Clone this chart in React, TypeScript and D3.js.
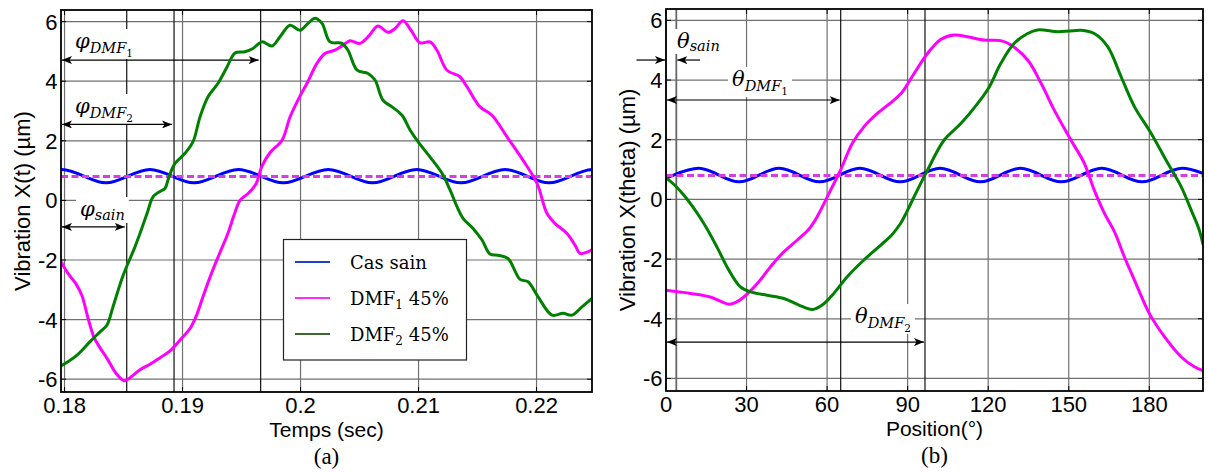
import React, { useLayoutEffect, useRef, useState } from 'react';
import * as d3 from 'd3';

// ---------- data ----------
const timeTicks = [0.18, 0.19, 0.2, 0.21, 0.22];
const timeTickLabels = ['0.18', '0.19', '0.2', '0.21', '0.22'];
const vibTicks = [-6, -4, -2, 0, 2, 4, 6];
const posTicks = [0, 30, 60, 90, 120, 150, 180];
const timeDomain = [0.1797, 0.2247];
const posDomain = [0, 200];
const vibDomainA = [-6.43, 6.39];
const vibDomainB = [-6.42, 6.38];
const meanLevel = 0.8;

// (a) vibration vs time
const sainTime: [number, number][] = [
  [0.17603, 0.59], [0.17977, 1.04], [0.18351, 0.59], [0.18724, 1.04], [0.19097, 0.59],
  [0.19473, 1.04], [0.19854, 0.59], [0.20235, 1.04], [0.2061, 0.59], [0.20984, 1.04],
  [0.2136, 0.59], [0.21733, 1.04], [0.22106, 0.59], [0.22479, 1.04], [0.22853, 0.59],
];
const dmf1Time: [number, number][] = [
  [0.1797, -2.06], [0.18029, -2.45], [0.18097, -2.8], [0.18148, -3.2], [0.18199, -3.95],
  [0.1825, -4.6], [0.18301, -4.95], [0.1836, -5.3], [0.18436, -5.8], [0.18504, -6.05],
  [0.18555, -5.95], [0.18639, -5.68], [0.18724, -5.5], [0.18809, -5.28], [0.18894, -5.05],
  [0.18978, -4.69], [0.19063, -4.3], [0.19114, -3.9], [0.19173, -3.23], [0.1925, -2.4],
  [0.19317, -1.75], [0.19385, -1.1], [0.19436, -0.5], [0.19487, 0.0], [0.19555, 0.23],
  [0.19622, 0.55], [0.19673, 1.15], [0.19741, 1.6], [0.19843, 2.02], [0.19911, 2.8],
  [0.19995, 3.5], [0.20055, 3.93], [0.20139, 4.6], [0.20207, 4.93], [0.20292, 5.04],
  [0.2036, 5.21], [0.20419, 5.36], [0.20504, 5.27], [0.20572, 5.49], [0.20656, 5.85],
  [0.20741, 5.64], [0.20801, 5.77], [0.20868, 6.03], [0.20936, 5.71], [0.21012, 5.29],
  [0.21097, 5.32], [0.21156, 5.04], [0.21241, 4.37], [0.21351, 4.15], [0.21411, 3.81],
  [0.21521, 3.14], [0.21622, 2.86], [0.2175, 2.13], [0.21885, 1.35], [0.22004, 0.57],
  [0.22089, -0.44], [0.22156, -0.77], [0.22258, -1.11], [0.22326, -1.5], [0.22368, -1.78],
  [0.22419, -1.75], [0.2247, -1.66],
];
const dmf2Time: [number, number][] = [
  [0.1797, -5.56], [0.18106, -5.19], [0.18216, -4.74], [0.18301, -4.41], [0.1836, -4.18],
  [0.18411, -3.57], [0.18487, -2.62], [0.18538, -2.11], [0.18597, -1.56], [0.18631, -1.2],
  [0.18699, -0.44], [0.1875, 0.12], [0.18809, 0.3], [0.18851, 0.4], [0.18885, 0.79],
  [0.18936, 1.24], [0.19021, 1.58], [0.19089, 1.97], [0.19148, 2.8], [0.19216, 3.48],
  [0.19301, 3.93], [0.19377, 4.48], [0.19445, 4.95], [0.19529, 4.99], [0.19597, 5.1],
  [0.19673, 5.32], [0.19758, 5.18], [0.19826, 5.49], [0.19911, 5.88], [0.19995, 5.71],
  [0.20063, 5.94], [0.20123, 6.11], [0.20182, 5.94], [0.2025, 5.32], [0.20351, 5.27],
  [0.20402, 5.04], [0.20479, 4.37], [0.20572, 4.26], [0.20631, 4.04], [0.20699, 3.36],
  [0.20775, 3.14], [0.2086, 2.86], [0.20928, 2.36], [0.20995, 1.97], [0.21097, 1.46],
  [0.21199, 0.91], [0.21267, 0.35], [0.21326, -0.21], [0.21377, -0.6], [0.21462, -0.94],
  [0.21538, -1.33], [0.21606, -1.8], [0.21673, -1.84], [0.21758, -1.95], [0.2186, -2.65],
  [0.21928, -2.73], [0.22012, -3.23], [0.22131, -3.85], [0.22224, -3.79], [0.22301, -3.85],
  [0.22385, -3.57], [0.2247, -3.29],
];

// (b) vibration vs angular position
const sainPos: [number, number][] = [
  [-2.8, 0.59], [12.2, 1.04], [27.2, 0.59], [42.2, 1.04], [57.2, 0.59], [72.2, 1.04],
  [87.2, 0.59], [102.1, 1.04], [117.1, 0.59], [132.0, 1.04], [147.2, 0.59], [162.3, 1.04],
  [177.3, 0.59], [192.2, 1.04], [207.2, 0.59],
];
const dmf1Pos: [number, number][] = [
  [0, -3.04], [5, -3.1], [9.1, -3.15], [16.5, -3.27], [20, -3.4], [23.4, -3.51], [26, -3.45],
  [29, -3.27], [34, -2.82], [38.9, -2.26], [43.3, -1.81], [48.9, -1.36], [53.2, -1.0],
  [56.3, -0.58], [61.3, 0.31], [65, 0.98], [69.4, 1.88], [73.7, 2.43], [78.7, 2.88],
  [84.9, 3.33], [88, 3.6], [92.4, 4.22], [97.4, 4.89], [102.3, 5.36], [107.3, 5.51],
  [112.3, 5.45], [118.5, 5.34], [124.7, 5.32], [128.5, 5.17], [134.7, 4.67], [139.7, 3.89],
  [144.6, 2.99], [150.8, 1.99], [155.8, 1.21], [159.5, 0.31], [163.3, -0.47], [167, -1.08],
  [170.7, -1.92], [174.5, -2.71], [180, -3.82], [185.7, -4.61], [191.9, -5.28],
  [196.8, -5.61], [200, -5.74],
];
const dmf2Pos: [number, number][] = [
  [0, 0.72], [3, 0.5], [6.6, 0.15], [10, -0.25], [13, -0.65], [16, -1.1], [19, -1.6],
  [23.4, -2.37], [27.7, -2.93], [31.5, -3.1], [37.7, -3.21], [43.9, -3.32], [49.5, -3.54],
  [54.5, -3.69], [58.2, -3.54], [62.5, -3.15], [67.5, -2.59], [73.7, -2.03], [80, -1.53],
  [84, -1.2], [87.4, -0.8], [89.5, -0.45], [92.4, 0.09], [97.4, 0.98], [103.6, 1.99],
  [109.9, 2.55], [116.1, 3.22], [120.4, 3.77], [124.7, 4.56], [129.7, 5.23], [134.7, 5.56],
  [138.4, 5.68], [145.9, 5.62], [150, 5.64], [154.6, 5.67], [159.5, 5.56], [164.5, 5.12],
  [169.5, 4.11], [174.5, 3.1], [180.7, 2.21], [186.9, 1.21], [191.9, 0.42], [195.6, -0.36],
  [198.5, -1.0], [200, -1.5],
];

// annotation markers (phase shifts)
const phaseMarkersA = [
  { sub: 'DMF', idx: '1', at: 0.19662, level: 4.71 },
  { sub: 'DMF', idx: '2', at: 0.18928, level: 2.55 },
  { sub: 'sain', idx: '', at: 0.18527, level: -0.89 },
];
const phaseMarkersB = [
  { sub: 'sain', idx: '', at: 3.84, level: 4.67 },
  { sub: 'DMF', idx: '1', at: 65.06, level: 3.33 },
  { sub: 'DMF', idx: '2', at: 96.46, level: -4.78 },
];

const legendItems = [
  { main: 'Cas sain', idx: '', rest: '', color: '#1f3fcf' },
  { main: 'DMF', idx: '1', rest: ' 45%', color: '#ff2bff' },
  { main: 'DMF', idx: '2', rest: ' 45%', color: '#3b6a2f' },
];

const BLUE = '#0000ff';
const MAGENTA = '#ff00ff';
const GREEN = '#008000';
const GRID = '#707070';
const SANS = '"Liberation Sans", Arial, sans-serif';
const SERIF_MATH = '"DejaVu Serif", serif';
const FS = 22;

function MathLabel({ x, y, sym, sub, idx, subDy }: any) {
  const ref = useRef<SVGTextElement>(null);
  const [bb, setBB] = useState<any>(null);
  useLayoutEffect(() => {
    if (ref.current) {
      const b = ref.current.getBBox();
      setBB({ x: b.x, y: b.y, w: b.width, h: b.height });
    }
  }, []);
  return (
    <g>
      {bb && <rect x={bb.x - 4} y={bb.y} width={bb.w + 8} height={bb.h} fill="white" />}
      <text ref={ref} x={x} y={y} fontFamily={SERIF_MATH} fontStyle="italic" fontSize={21} fill="#000">
        {sym}
        <tspan fontSize={14.5} dy={subDy}>{sub}</tspan>
        {idx && <tspan fontSize={10.5} dy={4} fontStyle="normal">{idx}</tspan>}
      </text>
    </g>
  );
}

function Arrow({ x1, x2, y, start, end }: any) {
  return (
    <line x1={x1} x2={x2} y1={y} y2={y} stroke="#000" strokeWidth={1.2}
      markerStart={start ? 'url(#arrowHead)' : undefined}
      markerEnd={end ? 'url(#arrowHead)' : undefined} />
  );
}

function Frame({ id, x, y, xTicks, xLabels, yTicks, xLabel, yLabel, yLabelX, caption }: any) {
  const [x0, x1] = x.range();
  const [y1, y0] = y.range();
  return (
    <g>
      <clipPath id={id}><rect x={x0} y={y0} width={x1 - x0} height={y1 - y0} /></clipPath>
      <rect x={x0} y={y0} width={x1 - x0} height={y1 - y0} fill="white" />
      {xTicks.map((t: number) => (
        <line key={'gx' + t} x1={x(t)} x2={x(t)} y1={y0} y2={y1} stroke={GRID} strokeWidth={1.2} />
      ))}
      {yTicks.map((t: number) => (
        <line key={'gy' + t} x1={x0} x2={x1} y1={y(t)} y2={y(t)} stroke={GRID} strokeWidth={1.2} />
      ))}
      {xTicks.map((t: number, i: number) => (
        <g key={'tx' + t}>
          <line x1={x(t)} x2={x(t)} y1={y0} y2={y0 + 5} stroke="#000" strokeWidth={1} />
          <line x1={x(t)} x2={x(t)} y1={y1} y2={y1 - 5} stroke="#000" strokeWidth={1} />
          <text x={x(t)} y={y1 + 21} textAnchor="middle" fontFamily={SANS} fontSize={FS}>{xLabels[i]}</text>
        </g>
      ))}
      {yTicks.map((t: number) => (
        <g key={'ty' + t}>
          <line x1={x0} x2={x0 + 5} y1={y(t)} y2={y(t)} stroke="#000" strokeWidth={1} />
          <line x1={x1} x2={x1 - 5} y1={y(t)} y2={y(t)} stroke="#000" strokeWidth={1} />
          <text x={x0 - 3.5} y={y(t)} dy="0.36em" textAnchor="end" fontFamily={SANS} fontSize={FS}>{t}</text>
        </g>
      ))}
      <text x={(x0 + x1) / 2} y={y1 + 45} textAnchor="middle" fontFamily={SANS} fontSize={21}>{xLabel}</text>
      <text transform={`translate(${yLabelX},${(y0 + y1) / 2}) rotate(-90)`} textAnchor="middle" fontFamily={SANS} fontSize={FS}>{yLabel}</text>
      <text x={(x0 + x1) / 2} y={y1 + 72} textAnchor="middle" fontFamily='"Liberation Serif", "Times New Roman", serif' fontSize={23}>{caption}</text>
    </g>
  );
}

function Box({ x, y }: any) {
  const [x0, x1] = x.range();
  const [y1, y0] = y.range();
  return <rect x={x0} y={y0} width={x1 - x0} height={y1 - y0} fill="none" stroke="#000" strokeWidth={1.8} />;
}

export default function App() {
  const xA = d3.scaleLinear().domain(timeDomain).range([61, 592]);
  const yA = d3.scaleLinear().domain(vibDomainA).range([392, 10]);
  const xB = d3.scaleLinear().domain(posDomain).range([666, 1203]);
  const yB = d3.scaleLinear().domain(vibDomainB).range([391, 9]);

  const lineA = d3.line<[number, number]>().x(d => xA(d[0])).y(d => yA(d[1])).curve(d3.curveCatmullRom.alpha(0.5));
  const lineB = d3.line<[number, number]>().x(d => xB(d[0])).y(d => yB(d[1])).curve(d3.curveCatmullRom.alpha(0.5));

  const curveStyle = { fill: 'none', strokeWidth: 3, strokeLinejoin: 'round' as const, strokeLinecap: 'round' as const };

  return (
    <div style={{ position: 'absolute', left: 0, top: 0, width: 1208, height: 472, background: 'white' }}>
      <svg width={1208} height={472} viewBox="0 0 1208 472" style={{ display: 'block' }}>
        <defs>
          <marker id="arrowHead" viewBox="0 0 10 8" refX={10} refY={4} markerWidth={10} markerHeight={8}
            markerUnits="userSpaceOnUse" orient="auto-start-reverse">
            <path d="M0,0 L10,4 L0,8 L2.5,4 Z" fill="#000" />
          </marker>
        </defs>
        <rect x={0} y={0} width={1208} height={472} fill="white" />

        {/* Panel (a) */}
        <Frame id="clipA" x={xA} y={yA} xTicks={timeTicks} xLabels={timeTickLabels} yTicks={vibTicks}
          xLabel="Temps (sec)" yLabel="Vibration X(t) (µm)" yLabelX={30} caption="(a)" />
        {phaseMarkersA.map(m => (
          <line key={'ma' + m.at} x1={xA(m.at)} x2={xA(m.at)} y1={yA.range()[1]} y2={yA.range()[0]} stroke="#111" strokeWidth={1.2} />
        ))}
        <MathLabel x={75} y={48} sym="φ" sub="DMF" idx="1" subDy={5} />
        <MathLabel x={75} y={113} sym="φ" sub="DMF" idx="2" subDy={5} />
        <MathLabel x={80} y={216} sym="φ" sub="sain" idx="" subDy={4} />
        {phaseMarkersA.map(m => (
          <Arrow key={'aa' + m.at} x1={xA(timeDomain[0]) + 1} x2={xA(m.at) - 2} y={yA(m.level)} start end />
        ))}
        <g clipPath="url(#clipA)">
          <path d={lineA(sainTime) || ''} stroke={BLUE} {...curveStyle} />
          <line x1={xA(timeDomain[0])} x2={xA(timeDomain[1])} y1={yA(meanLevel)} y2={yA(meanLevel)}
            stroke="#d63ee0" strokeWidth={3} strokeDasharray="7 3.5" />
          <path d={lineA(dmf1Time) || ''} stroke={MAGENTA} {...curveStyle} />
          <path d={lineA(dmf2Time) || ''} stroke={GREEN} {...curveStyle} />
        </g>
        <Box x={xA} y={yA} />

        {/* Legend */}
        <g>
          <rect x={283.5} y={239.5} width={183} height={120.5} fill="white" stroke="#222" strokeWidth={1.2} />
          {legendItems.map((it, i) => {
            const ly = 262 + i * 36;
            return (
              <g key={it.main + i}>
                <line x1={295} x2={330} y1={ly} y2={ly} stroke={it.color} strokeWidth={2} />
                <text x={350} y={ly + 7} fontFamily={SERIF_MATH} fontSize={18}>
                  {it.main}
                  {it.idx && <tspan fontSize={12} dy={4}>{it.idx}</tspan>}
                  {it.rest && <tspan dy={-4}>{it.rest}</tspan>}
                </text>
              </g>
            );
          })}
        </g>

        {/* Panel (b) */}
        <Frame id="clipB" x={xB} y={yB} xTicks={posTicks} xLabels={posTicks.map(String)} yTicks={vibTicks}
          xLabel="Position(°)" yLabel="Vibration X(theta) (µm)" yLabelX={635} caption="(b)" />
        {phaseMarkersB.map((m, i) => (
          <line key={'mb' + m.at} x1={xB(m.at)} x2={xB(m.at)} y1={yB.range()[1]} y2={yB.range()[0]}
            stroke={i === 0 ? '#666' : '#111'} strokeWidth={i === 0 ? 1.8 : 1.2} />
        ))}
        <MathLabel x={677} y={48} sym="θ" sub="sain" idx="" subDy={3} />
        <MathLabel x={732} y={86} sym="θ" sub="DMF" idx="1" subDy={5} />
        <MathLabel x={855} y={323} sym="θ" sub="DMF" idx="2" subDy={5} />
        <Arrow x1={xB(-11)} x2={xB(0) - 1} y={yB(phaseMarkersB[0].level)} end />
        <Arrow x1={xB(12.7)} x2={xB(phaseMarkersB[0].at) + 1} y={yB(phaseMarkersB[0].level)} end />
        <Arrow x1={xB(0) + 1} x2={xB(phaseMarkersB[1].at) - 1} y={yB(phaseMarkersB[1].level)} start end />
        <Arrow x1={xB(0) + 1} x2={xB(phaseMarkersB[2].at) - 1} y={yB(phaseMarkersB[2].level)} start end />
        <g clipPath="url(#clipB)">
          <path d={lineB(sainPos) || ''} stroke={BLUE} {...curveStyle} />
          <line x1={xB(posDomain[0])} x2={xB(posDomain[1])} y1={yB(meanLevel)} y2={yB(meanLevel)}
            stroke="#d63ee0" strokeWidth={3} strokeDasharray="7 3.5" />
          <path d={lineB(dmf1Pos) || ''} stroke={MAGENTA} {...curveStyle} />
          <path d={lineB(dmf2Pos) || ''} stroke={GREEN} {...curveStyle} />
        </g>
        <Box x={xB} y={yB} />
      </svg>
    </div>
  );
}
